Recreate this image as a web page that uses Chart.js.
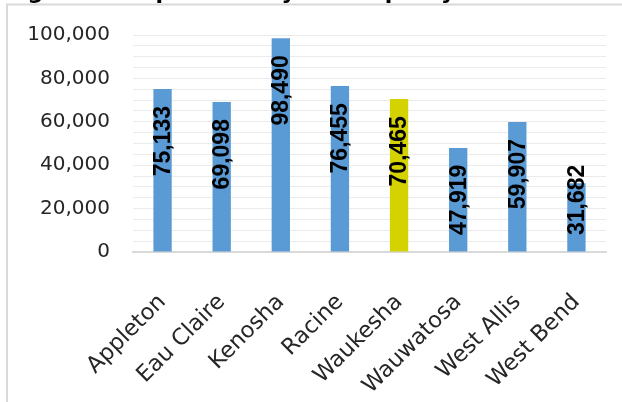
<!DOCTYPE html>
<html>
<head>
<meta charset="utf-8">
<script src="https://cdn.jsdelivr.net/npm/chart.js@4/dist/chart.umd.min.js"></script>
<style>
  html, body { margin: 0; padding: 0; background: #ffffff; }
  #wrap { width: 622px; height: 402px; position: relative; }
</style>
</head>
<body>
<div id="wrap"><canvas id="chart" width="622" height="402"></canvas></div>
<script>
// Population of comparable Wisconsin cities
const cities = ['Appleton', 'Eau Claire', 'Kenosha', 'Racine', 'Waukesha', 'Wauwatosa', 'West Allis', 'West Bend'];
const population = [75133, 69098, 98490, 76455, 70465, 47919, 59907, 31682];
const highlightCity = 'Waukesha';
const yTickLabels = ['0', '20,000', '40,000', '60,000', '80,000', '100,000'];
const captionText = 'Figure 1: Population by Municipality';

const BAR_BLUE = '#5B9BD5';
const BAR_HIGHLIGHT = '#D4D200';
const TEXT_DARK = '#262626';

// Caption above the frame and the frame's left/top border
const framePlugin = {
  id: 'frame',
  beforeDraw(chart) {
    const ctx = chart.ctx;
    ctx.save();
    ctx.fillStyle = '#ffffff';
    ctx.fillRect(0, 0, chart.width, chart.height);
    ctx.strokeStyle = '#D9D9D9';
    ctx.lineWidth = 2;
    ctx.beginPath();
    ctx.moveTo(7, chart.height);
    ctx.lineTo(7, 4.5);
    ctx.lineTo(chart.width, 4.5);
    ctx.stroke();
    ctx.font = '700 22px "DejaVu Sans"';
    ctx.fillStyle = '#000000';
    ctx.textAlign = 'left';
    ctx.textBaseline = 'alphabetic';
    ctx.fillText(captionText, 5, -1.5);
    ctx.restore();
  }
};

// Value labels drawn vertically inside the top end of each bar
const valueLabelPlugin = {
  id: 'valueLabels',
  afterDatasetsDraw(chart) {
    const ctx = chart.ctx;
    const meta = chart.getDatasetMeta(0);
    const base = chart.scales.y.getPixelForValue(0);
    ctx.save();
    ctx.font = '700 23px "Liberation Sans", Arial, sans-serif';
    ctx.fillStyle = '#000000';
    ctx.textAlign = 'left';
    ctx.textBaseline = 'middle';
    meta.data.forEach((bar, i) => {
      const txt = population[i].toLocaleString('en-US');
      const w = ctx.measureText(txt).width;
      const top = bar.y + 17;
      let bottom = top + w;
      if (bottom > base - 17) bottom = base - 17;
      ctx.save();
      ctx.translate(bar.x + 1, bottom);
      ctx.rotate(-Math.PI / 2);
      ctx.fillText(txt, 0, 0);
      ctx.restore();
    });
    ctx.restore();
  }
};

new Chart(document.getElementById('chart'), {
  type: 'bar',
  data: {
    labels: cities,
    datasets: [{
      data: population,
      backgroundColor: cities.map(c => c === highlightCity ? BAR_HIGHLIGHT : BAR_BLUE),
      borderWidth: 0,
      barPercentage: 0.31,
      categoryPercentage: 1.0
    }]
  },
  options: {
    responsive: false,
    animation: false,
    layout: { padding: { top: 34, right: 16, left: 0, bottom: 0 } },
    plugins: { legend: { display: false }, tooltip: { enabled: false } },
    scales: {
      x: {
        grid: { display: false, drawTicks: false },
        border: { color: '#D9D9D9', width: 2 },
        ticks: {
          minRotation: 45,
          maxRotation: 45,
          autoSkip: false,
          padding: 37,
          color: TEXT_DARK,
          font: { family: '"DejaVu Sans"', size: 22.5 }
        },
        afterFit(scale) {
          scale.height = 150;
          scale.paddingLeft = 0;
          scale.paddingRight = 0;
        }
      },
      y: {
        min: 0,
        max: 100000,
        grid: { color: '#EBEBEB', lineWidth: 1, drawTicks: false },
        border: { display: false },
        ticks: {
          stepSize: 5000,
          autoSkip: false,
          padding: 23,
          color: TEXT_DARK,
          font: { family: '"DejaVu Sans"', size: 20 },
          callback: (v) => (v % 20000 === 0 ? yTickLabels[v / 20000] : '')
        },
        afterFit(scale) { scale.width = 133; }
      }
    }
  },
  plugins: [framePlugin, valueLabelPlugin]
});
</script>
</body>
</html>
